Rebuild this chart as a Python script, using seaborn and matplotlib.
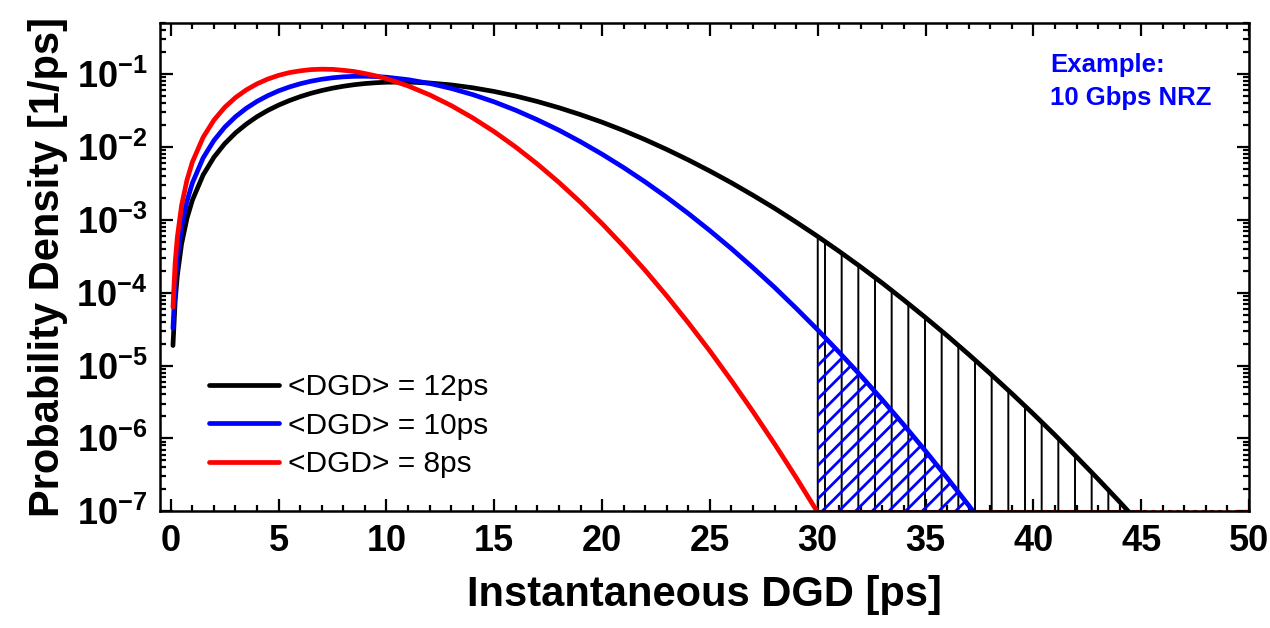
import numpy as np
import pandas as pd
import seaborn as sns
import matplotlib
matplotlib.use('Agg')
from matplotlib import pyplot as plt
import matplotlib.ticker as mtick

# values (log-scale y)
dgd_ps = [0.1, 0.2, 0.3, 0.5, 0.75, 1, 1.5, 2, 2.5, 3, 3.5, 4, 4.5, 5, 5.5, 6, 6.5,
          7, 7.5, 8, 8.5, 9, 9.5, 10, 11, 12, 13, 14, 15, 16, 17, 18, 19, 20,
          21, 22, 23, 24, 25, 26, 27, 28, 29, 30, 31, 32, 33, 34, 35,
          36, 37, 38, 39, 40, 41, 42, 43, 44, 45]

pdf_12ps = [1.88e-5, 7.5e-5, 1.69e-4, 4.68e-4, 1.05e-3, 1.86e-3, 4.14e-3, 7.24e-3, 1.11e-2, 1.56e-2,
            2.06e-2, 2.61e-2, 3.18e-2, 3.76e-2, 4.34e-2, 4.91e-2, 5.46e-2, 5.96e-2, 6.42e-2, 6.82e-2,
            7.16e-2, 7.43e-2, 7.62e-2, 7.75e-2, 7.79e-2, 7.56e-2, 7.12e-2,
            6.50e-2, 5.78e-2, 5.0e-2, 4.21e-2, 3.46e-2, 2.78e-2, 2.19e-2, 1.68e-2, 1.26e-2, 9.24e-3,
            6.64e-3, 4.67e-3, 3.22e-3, 2.17e-3, 1.44e-3, 9.3e-4, 5.91e-4, 3.68e-4, 2.25e-4, 1.35e-4,
            7.89e-5, 4.54e-5, 2.57e-5, 1.42e-5, 7.72e-6, 4.12e-6, 2.16e-6, 1.11e-6, 5.57e-7, 2.76e-7,
            1.34e-7, 6.4e-8]

pdf_10ps = [3.24e-5, 1.30e-4, 2.91e-4, 8.08e-4, 1.81e-3, 3.2e-3, 7.09e-3, 1.23e-2, 1.87e-2, 2.6e-2,
            3.40e-2, 4.23e-2, 5.07e-2, 5.9e-2, 6.67e-2, 7.38e-2, 8.0e-2, 8.51e-2, 8.91e-2, 9.19e-2,
            9.33e-2, 9.36e-2, 9.27e-2, 9.08e-2, 8.4e-2, 7.46e-2, 6.37e-2,
            5.24e-2, 4.16e-2, 3.19e-2, 2.36e-2, 1.70e-2, 1.18e-2, 7.96e-3, 5.21e-3, 3.31e-3, 2.04e-3,
            1.22e-3, 7.09e-4, 4.01e-4, 2.2e-4, 1.18e-4, 6.1e-5, 3.08e-5, 1.51e-5, 7.23e-6, 3.36e-6,
            1.52e-6, 6.69e-7, 2.87e-7, 1.2e-7, 4.9e-8]

pdf_8ps = [6.33e-5, 2.53e-4, 5.69e-4, 1.58e-3, 3.52e-3, 6.21e-3, 1.36e-2, 2.34e-2, 3.5e-2, 4.77e-2,
           6.08e-2, 7.37e-2, 8.57e-2, 9.63e-2, 0.105, 0.111, 0.1155, 0.117, 0.1163, 0.113,
           0.1087, 0.102, 9.49e-2, 8.66e-2, 6.9e-2, 5.2e-2, 3.71e-2,
           2.51e-2, 1.62e-2, 9.95e-3, 5.83e-3, 3.26e-3, 1.74e-3, 8.86e-4, 4.32e-4, 2.02e-4, 9.01e-5,
           3.85e-5, 1.58e-5, 6.18e-6, 2.32e-6, 8.36e-7, 2.89e-7, 9.6e-8]

labels = ['<DGD> = 12ps', '<DGD> = 10ps', '<DGD> = 8ps']
colors = ['black', 'blue', 'red']
y_floor = 1e-7
y_top = 0.5
x_max = 50
shade_from = 30

frames = []
for lab, vals in zip(labels, [pdf_12ps, pdf_10ps, pdf_8ps]):
    frames.append(pd.DataFrame({'DGD': dgd_ps[:len(vals)], 'pdf': vals, 'curve': lab}))
df = pd.concat(frames, ignore_index=True)

sns.set_style('ticks')
plt.rcParams['font.family'] = ['Liberation Sans', 'DejaVu Sans']
plt.rcParams['mathtext.fontset'] = 'custom'
plt.rcParams['mathtext.bf'] = 'Liberation Sans:bold'
plt.rcParams['mathtext.rm'] = 'Liberation Sans'
plt.rcParams['text.color'] = 'black'
plt.rcParams['axes.labelcolor'] = 'black'
plt.rcParams['xtick.color'] = 'black'
plt.rcParams['ytick.color'] = 'black'
plt.rcParams['axes.edgecolor'] = 'black'

fig, ax = plt.subplots(figsize=(12.7, 6.28), dpi=100)
fig.subplots_adjust(left=0.126, right=0.9835, top=0.963, bottom=0.186)

# shaded tails beyond 30 ps
x_arr = np.array(dgd_ps)
blk = np.array(pdf_12ps)
m = x_arr >= shade_from
with plt.rc_context({'hatch.linewidth': 1.4}):
    ax.fill_between(x_arr[m], y_floor, blk[m], facecolor='none', edgecolor='black',
                    hatch='|', linewidth=1.4, zorder=1)
blu = np.array(pdf_10ps)
xb = x_arr[:len(blu)]
mb = xb >= shade_from
with plt.rc_context({'hatch.linewidth': 2.0}):
    ax.fill_between(xb[mb], y_floor, blu[mb], facecolor='none', edgecolor='blue',
                    hatch='//', linewidth=0, zorder=1.2)

ax.plot([shade_from, x_max], [y_floor, y_floor], color='red', lw=1.5,
        ls=(0, (2, 2)), zorder=1.5, clip_on=False)

sns.lineplot(data=df, x='DGD', y='pdf', hue='curve', hue_order=labels,
             palette=colors, linewidth=3.4, sort=False, errorbar=None, ax=ax, zorder=3)

ax.set(yscale='log')
ax.set_xlim(-0.5, x_max)
ax.set_ylim(y_floor, y_top)

ax.xaxis.set_major_locator(mtick.MultipleLocator(5))
ax.xaxis.set_minor_locator(mtick.MultipleLocator(1))
ax.yaxis.set_major_locator(mtick.LogLocator(base=10, numticks=20))
ax.yaxis.set_minor_locator(mtick.LogLocator(base=10, subs=np.arange(2, 10), numticks=20))
ax.yaxis.set_minor_formatter(mtick.NullFormatter())
ax.yaxis.set_major_formatter(mtick.FuncFormatter(
    lambda v, p: r'$\mathbf{10^{%d}}$' % int(round(np.log10(v)))))

ax.tick_params(which='both', direction='in', top=True, right=True, width=1.6)
ax.tick_params(which='major', length=9, labelsize=26, pad=9)
ax.tick_params(which='minor', length=4.5)
for t in ax.get_xticklabels():
    t.set_fontweight('bold')
for s in ax.spines.values():
    s.set_linewidth(1.8)
    s.set_zorder(4)

ax.set_xlabel('Instantaneous DGD [ps]', fontsize=30, fontweight='bold', labelpad=12)
ax.set_ylabel('Probability Density [1/ps]', fontsize=30, fontweight='bold', labelpad=6)

ax.text(0.817, 0.94, 'Example:\n10 Gbps NRZ', transform=ax.transAxes, color='blue',
        fontsize=18.5, fontweight='bold', ha='left', va='top', linespacing=1.5)

sns.move_legend(ax, 'lower left', bbox_to_anchor=(0.02, 0.012), frameon=False, title=None,
                fontsize=21.5, handlelength=2.35, handletextpad=0.3, labelspacing=0.36)

fig.savefig('out.png', dpi=100)
